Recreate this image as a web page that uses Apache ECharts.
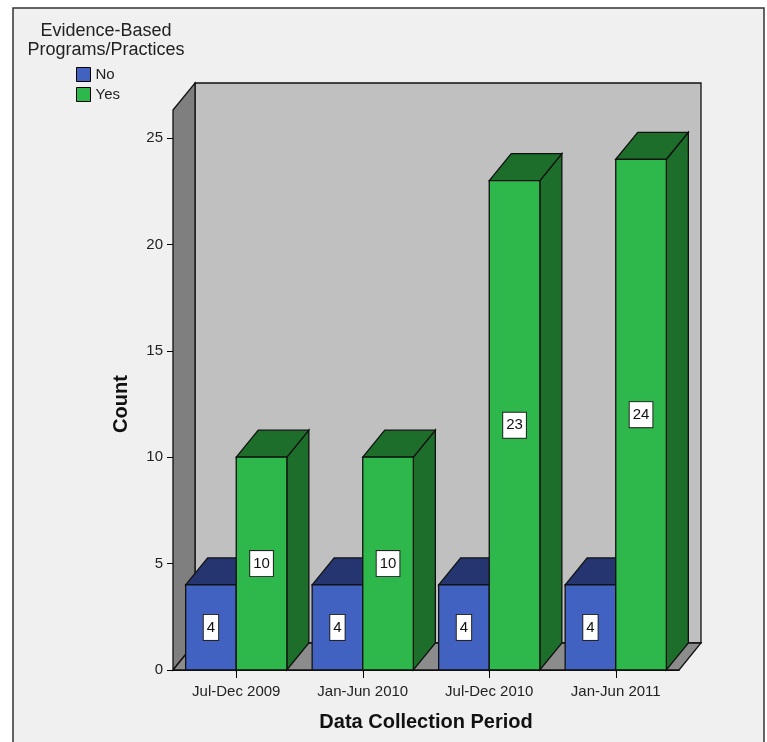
<!DOCTYPE html>
<html>
<head>
<meta charset="utf-8">
<script src="https://cdn.jsdelivr.net/npm/echarts@6/dist/echarts.min.js"></script>
<style>
html,body{margin:0;padding:0;background:#ffffff;}
#chart{width:767px;height:742px;}
</style>
</head>
<body>
<div id="chart"></div>
<script>
// ---- data ----
const categories = ['Jul-Dec 2009', 'Jan-Jun 2010', 'Jul-Dec 2010', 'Jan-Jun 2011'];
const seriesNames = ['No', 'Yes'];
const noValues = [4, 4, 4, 4];
const yesValues = [10, 10, 23, 24];
const yTicks = [0, 5, 10, 15, 20, 25];
const legendTitle = 'Evidence-Based\nPrograms/Practices';
const xTitle = 'Data Collection Period';
const yTitle = 'Count';

// ---- style ----
const FONT = '"Liberation Sans", Arial, sans-serif';
const DX = 22, DY = -27;       // depth offset of the 3D look
const WALL_EXTRA = 28;         // wall goes above the top tick
const BAR_FRAC = 0.4;          // bar width as fraction of category band
const colors = {
  No:  {front: '#4162c0', top: '#24356f', side: '#24356f'},
  Yes: {front: '#2eb84b', top: '#1d6e2b', side: '#1d6e2b'}
};

const chart = echarts.init(document.getElementById('chart'), null, {renderer: 'canvas'});

function wallsRender(params, api) {
  const cs = params.coordSys;
  const x0 = cs.x, x1 = cs.x + cs.width;
  const base = cs.y + cs.height;
  const top = cs.y - WALL_EXTRA;
  const line = {stroke: '#111', lineWidth: 1.3};
  return {
    type: 'group',
    children: [
      {type: 'polygon', z2: 1, shape: {points: [[x0 + DX, top + DY], [x1 + DX, top + DY], [x1 + DX, base + DY], [x0 + DX, base + DY]]},
        style: Object.assign({fill: '#c0c0c0'}, line)},
      {type: 'polygon', z2: 2, shape: {points: [[x0, top], [x0 + DX, top + DY], [x0 + DX, base + DY], [x0, base]]},
        style: Object.assign({fill: '#7f7f7f'}, line)},
      {type: 'polygon', z2: 3, shape: {points: [[x0, base], [x0 + DX, base + DY], [x1 + DX, base + DY], [x1, base]]},
        style: Object.assign({fill: '#8c8c8c'}, line)}
    ]
  };
}

function makeBarRender(name, side) {
  const c = colors[name];
  return function (params, api) {
    const idx = api.value(0);
    const val = api.value(1);
    const center = api.coord([idx, 0])[0];
    const band = api.size([1, 0])[0];
    const w = band * BAR_FRAC;
    const xa = side < 0 ? center - w : center;
    const xb = xa + w;
    const yBase = api.coord([idx, 0])[1];
    const yTop = api.coord([idx, val])[1];
    const line = {stroke: '#111', lineWidth: 1.3};
    return {
      type: 'group',
      children: [
        {type: 'polygon', shape: {points: [[xb, yTop], [xb + DX, yTop + DY], [xb + DX, yBase + DY], [xb, yBase]]},
          style: Object.assign({fill: c.side}, line)},
        {type: 'polygon', shape: {points: [[xa, yTop], [xa + DX, yTop + DY], [xb + DX, yTop + DY], [xb, yTop]]},
          style: Object.assign({fill: c.top}, line)},
        {type: 'rect', shape: {x: xa, y: yTop, width: w, height: yBase - yTop},
          style: Object.assign({fill: c.front}, line)},
        {type: 'text', z2: 10, style: {
          text: String(val), x: (xa + xb) / 2, y: (yTop + yBase) / 2,
          align: 'center', verticalAlign: 'middle',
          fill: '#111', font: '15px ' + FONT,
          backgroundColor: '#ffffff', borderColor: '#222', borderWidth: 1,
          padding: [5, 3]
        }}
      ]
    };
  };
}

const option = {
  animation: false,
  backgroundColor: 'transparent',
  graphic: [{
    type: 'rect', z: -10, silent: true,
    shape: {x: 13, y: 8, width: 751, height: 760},
    style: {fill: '#f0f0f0', stroke: '#333', lineWidth: 1.5}
  }],
  title: {
    text: legendTitle,
    left: 101, top: 17, textAlign: 'center',
    textStyle: {fontFamily: FONT, fontSize: 18, fontWeight: 'normal', color: '#222', lineHeight: 19}
  },
  legend: {
    data: [
      {name: seriesNames[0], itemStyle: {color: colors.No.front, borderColor: '#000', borderWidth: 1}},
      {name: seriesNames[1], itemStyle: {color: colors.Yes.front, borderColor: '#000', borderWidth: 1}}
    ],
    orient: 'vertical', left: 76, top: 67,
    icon: 'rect', itemWidth: 14, itemHeight: 14, itemGap: 5,
    padding: 0,
    textStyle: {fontFamily: FONT, fontSize: 15, color: '#222', padding: [0, 0, 0, 0]}
  },
  grid: {left: 173, right: 88, top: 138, bottom: 72, containLabel: false},
  xAxis: {
    type: 'category', data: categories, boundaryGap: true,
    axisLine: {show: true, lineStyle: {color: '#000'}},
    axisTick: {show: true, alignWithLabel: true, length: 8, lineStyle: {color: '#000'}},
    axisLabel: {fontFamily: FONT, fontSize: 15, color: '#222', margin: 14},
    name: xTitle, nameLocation: 'middle', nameGap: 42,
    nameTextStyle: {fontFamily: FONT, fontSize: 20, fontWeight: 'bold', color: '#111'},
    splitLine: {show: false}
  },
  yAxis: {
    type: 'value', min: yTicks[0], max: yTicks[yTicks.length - 1], interval: yTicks[1] - yTicks[0],
    axisLine: {show: true, lineStyle: {color: '#000'}},
    axisTick: {show: true, length: 6, lineStyle: {color: '#000'}},
    axisLabel: {fontFamily: FONT, fontSize: 15, color: '#222', margin: 10},
    splitLine: {show: false},
    name: yTitle, nameLocation: 'middle', nameGap: 42, nameRotate: 90,
    nameTextStyle: {fontFamily: FONT, fontSize: 20, fontWeight: 'bold', color: '#111'}
  },
  series: [
    {type: 'custom', name: '_walls', z: 1, clip: false, silent: true,
      renderItem: wallsRender, data: [[0, 0]]},
    {type: 'custom', name: seriesNames[0], z: 3, clip: false,
      itemStyle: {color: colors.No.front},
      renderItem: makeBarRender('No', -1),
      data: noValues.map((v, i) => [i, v])},
    {type: 'custom', name: seriesNames[1], z: 4, clip: false,
      itemStyle: {color: colors.Yes.front},
      renderItem: makeBarRender('Yes', 1),
      data: yesValues.map((v, i) => [i, v])}
  ]
};
chart.setOption(option);
</script>
</body>
</html>
